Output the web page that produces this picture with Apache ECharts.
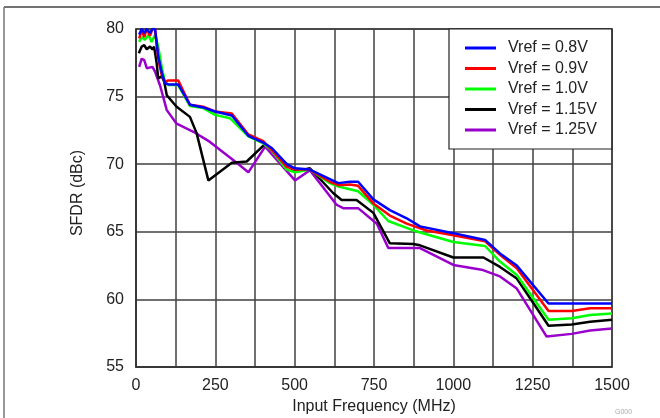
<!DOCTYPE html>
<html>
<head>
<meta charset="utf-8">
<script src="https://cdn.jsdelivr.net/npm/echarts@6/dist/echarts.min.js"></script>
<style>html,body{margin:0;padding:0;background:#fff;}#c{width:660px;height:418px;}</style>
</head>
<body>
<div id="c"></div>
<script>
// Series names
const seriesNames = ['Vref = 0.8V', 'Vref = 0.9V', 'Vref = 1.0V', 'Vref = 1.15V', 'Vref = 1.25V'];

// Vref = 0.8V
const freq08 = [10,18,26,34,44,52,60,70,81,91,102,133,170,212,249,302,354,401,428,475,501,548,611,638,674,700,748,800,853,895,1000,1100,1147,1200,1300,1500];
const sfdr08 = [79.6,80,79.7,80,79.7,80,80,78.0,76.8,76.0,75.9,75.9,74.4,74.2,73.9,73.6,72.1,71.6,71.2,70.0,69.7,69.6,68.9,68.6,68.7,68.7,67.4,66.6,66.0,65.4,64.9,64.4,63.4,62.5,59.7,59.7];

// Vref = 0.9V
const freq09 = [10,18,26,34,44,52,60,70,81,91,102,133,170,212,249,302,354,401,428,475,501,548,611,638,674,700,748,800,853,916,1000,1100,1147,1200,1300,1373,1431,1500];
const sfdr09 = [79.3,79.9,79.4,80,79.5,80,80,77.8,76.6,76.1,76.2,76.2,74.4,74.25,73.9,73.75,72.2,71.7,71.05,69.8,69.6,69.6,68.7,68.45,68.5,68.4,67.1,66.2,65.6,65.1,64.75,64.3,63.3,62.3,59.15,59.15,59.35,59.35];

// Vref = 1.0V
const freq10 = [10,18,28,39,49,60,70,81,91,102,133,170,212,249,296,354,401,428,475,501,548,611,638,700,748,795,874,1000,1100,1147,1200,1300,1373,1431,1500];
const sfdr10 = [79.05,79.4,79.2,79.55,79.05,79.55,78.7,77.2,76.1,75.85,75.85,74.3,74.15,73.65,73.4,72.05,71.55,71.0,69.6,69.4,69.6,68.6,68.35,68.0,67.0,65.8,65.1,64.25,63.95,62.8,61.8,58.5,58.6,58.85,58.95];

// Vref = 1.15V
const freq115 = [9,18,26,34,44,52,57,65,70,81,89,97,128,170,191,228,302,349,407,501,548,622,648,695,748,800,874,895,1000,1095,1147,1200,1300,1373,1431,1500];
const sfdr115 = [78.2,78.7,78.8,78.5,78.7,78.5,78.7,77.5,76.35,76.5,76.1,75.1,74.25,73.5,72.3,68.8,70.1,70.2,71.5,69.45,69.7,67.85,67.35,67.35,66.4,64.15,64.1,64.0,63.1,63.1,62.4,61.55,58.05,58.15,58.35,58.5];

// Vref = 1.25V
const freq125 = [10,18,26,34,52,60,76,97,128,181,233,307,354,407,501,548,632,653,700,759,795,895,1000,1089,1147,1200,1294,1373,1431,1500];
const sfdr125 = [77.2,77.8,77.7,77.1,77.2,76.85,75.8,74.0,73.0,72.4,71.65,70.3,69.4,71.3,68.8,69.55,67.0,66.75,66.75,65.6,63.8,63.8,62.55,62.2,61.7,60.8,57.25,57.45,57.7,57.85];

const colors = ['#0000ff', '#ff0000', '#00ff00', '#000000', '#9900cc'];
const freqs = [freq08, freq09, freq10, freq115, freq125];
const sfdrs = [sfdr08, sfdr09, sfdr10, sfdr115, sfdr125];

// Axis ticks
const xMin = 0, xMax = 1500, xStep = 125, xLabelStep = 250;
const yMin = 55, yMax = 80, yStep = 5;

const font = "'Liberation Sans', Arial, sans-serif";

const series = seriesNames.map((name, i) => ({
  name: name,
  type: 'line',
  data: freqs[i].map((f, k) => [f, sfdrs[i][k]]),
  symbol: 'none',
  lineStyle: { color: colors[i], width: 2.5 },
  itemStyle: { color: colors[i] },
  z: 10 - i,
  clip: true
}));

const chart = echarts.init(document.getElementById('c'), null, { renderer: 'canvas' });
chart.setOption({
  animation: false,
  backgroundColor: '#ffffff',
  grid: { left: 136, right: 48, top: 29, bottom: 51, containLabel: false, outerBoundsMode: 'none',
    show: true, borderColor: '#333', borderWidth: 1.5, backgroundColor: 'transparent' },
  xAxis: {
    type: 'value', min: xMin, max: xMax, interval: xStep,
    name: 'Input Frequency (MHz)', nameLocation: 'middle', nameGap: 32,
    nameTextStyle: { fontFamily: font, fontSize: 16, color: '#222' },
    axisLine: { show: true, lineStyle: { color: '#333', width: 1.5 } },
    axisTick: { show: false },
    axisLabel: { margin: 11, fontFamily: font, fontSize: 16, color: '#222',
      formatter: v => (v % xLabelStep === 0 ? String(v) : '') },
    splitLine: { show: true, lineStyle: { color: '#404040', width: 1.5 } }
  },
  yAxis: {
    type: 'value', min: yMin, max: yMax, interval: yStep,
    name: 'SFDR (dBc)', nameLocation: 'middle', nameGap: 50,
    nameTextStyle: { fontFamily: font, fontSize: 16, color: '#222', padding: [0, 0, 0, 10] },
    axisLine: { show: true, lineStyle: { color: '#333', width: 1.5 } },
    axisTick: { show: false },
    axisLabel: { margin: 12, fontFamily: font, fontSize: 16, color: '#222' },
    splitLine: { show: true, lineStyle: { color: '#404040', width: 1.5 } }
  },
  legend: {
    orient: 'vertical', left: 449, top: 29,
    backgroundColor: '#ffffff', borderColor: '#222', borderWidth: 1.2, borderRadius: 0,
    padding: [11, 15, 11, 16], itemGap: 4.5,
    itemWidth: 31, itemHeight: 3, icon: 'rect',
    textStyle: { fontFamily: font, fontSize: 16, color: '#222', padding: [0, 0, 0, 7] },
    data: seriesNames
  },
  graphic: [
    { type: 'line', shape: { x1: 4, y1: 7, x2: 660, y2: 7 }, style: { stroke: '#444', lineWidth: 1.5 } },
    { type: 'line', shape: { x1: 4, y1: 7, x2: 4, y2: 418 }, style: { stroke: '#777', lineWidth: 1.5 } },
    { type: 'text', left: 615, top: 409, style: { text: 'G000', fontFamily: font, fontSize: 7, fill: '#aaa' } }
  ],
  series: series
});
</script>
</body>
</html>
